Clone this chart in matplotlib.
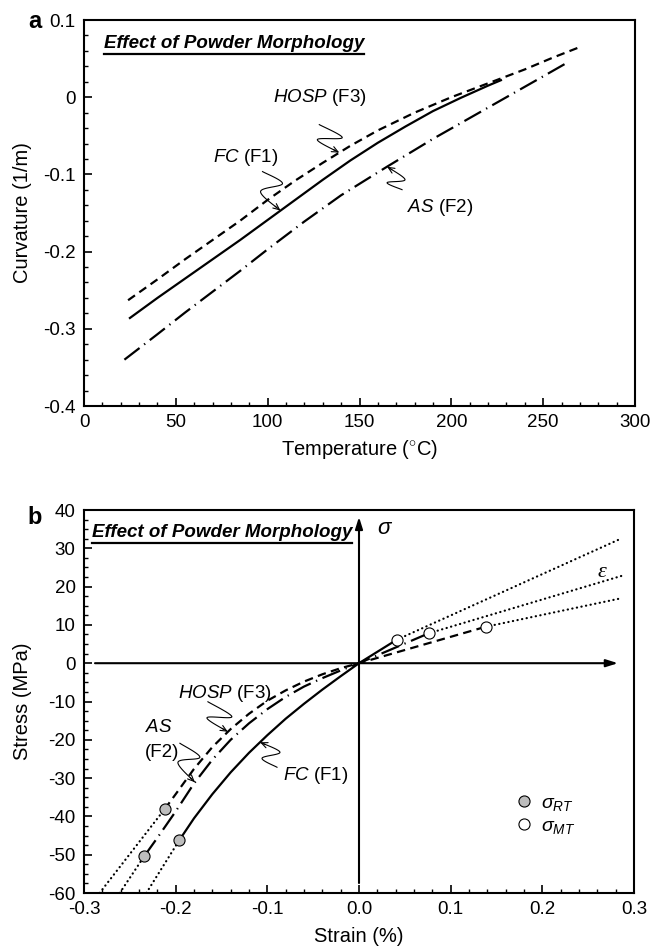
import numpy as np
import matplotlib.pyplot as plt
from matplotlib.ticker import MultipleLocator, FuncFormatter

plt.rcParams['font.family'] = ['Liberation Sans', 'DejaVu Sans']
plt.rcParams['axes.unicode_minus'] = False
plt.rcParams['mathtext.fontset'] = 'custom'
plt.rcParams['mathtext.it'] = 'Liberation Sans:italic'
plt.rcParams['mathtext.rm'] = 'Liberation Sans'

# ---- panel a: curvature vs temperature ----
temp_fc = [25, 40, 55, 70, 85, 100, 115, 130, 145, 160, 175, 190, 205, 220, 227]
curv_fc = [-0.286, -0.260, -0.235, -0.210, -0.185, -0.159, -0.133, -0.107, -0.082,
           -0.059, -0.038, -0.018, -0.001, 0.015, 0.022]
temp_as = [22, 40, 55, 70, 85, 100, 120, 140, 165, 190, 210, 230, 250, 264]
curv_as = [-0.340, -0.307, -0.279, -0.252, -0.225, -0.197, -0.161, -0.127, -0.090,
           -0.054, -0.027, 0.000, 0.027, 0.046]
temp_hosp = [24, 40, 55, 70, 85, 100, 115, 130, 145, 160, 180, 200, 220, 240, 255, 270]
curv_hosp = [-0.263, -0.236, -0.210, -0.185, -0.160, -0.133, -0.108, -0.085, -0.063,
             -0.043, -0.020, 0.000, 0.018, 0.036, 0.051, 0.065]

# ---- panel b: stress vs strain (first point = sigma_RT, last point = sigma_MT) ----
strain_fc = [-0.196, -0.18, -0.16, -0.14, -0.12, -0.10, -0.08, -0.06, -0.04, -0.02, 0.0, 0.041]
stress_fc = [-46.2, -40.5, -34.2, -28.5, -23.4, -18.8, -14.5, -10.6, -6.9, -3.4, 0.0, 6.1]
strain_as = [-0.234, -0.22, -0.20, -0.18, -0.16, -0.14, -0.12, -0.10, -0.08, -0.06, -0.04, -0.02, 0.0, 0.076]
stress_as = [-50.3, -45.6, -38.7, -31.4, -25.2, -20.0, -15.7, -12.0, -8.8, -6.1, -3.9, -1.9, 0.0, 7.8]
strain_hosp = [-0.212, -0.20, -0.18, -0.16, -0.14, -0.12, -0.10, -0.08, -0.06, -0.04, -0.02, 0.0, 0.138]
stress_hosp = [-38.1, -34.2, -27.6, -21.9, -17.2, -13.2, -9.8, -7.1, -4.8, -2.9, -1.3, 0.0, 9.5]

# extrapolated (dotted) ends of each curve: [low end, high end]
ext_strain_fc = [-0.232, 0.2865]
ext_stress_fc = [-60.0, 32.6]
ext_strain_as = [-0.261, 0.2865]
ext_stress_as = [-60.0, 22.8]
ext_strain_hosp = [-0.283, 0.283]
ext_stress_hosp = [-60.0, 16.8]

DASHED = (0, (3.8, 2.4))
DASHDOT = (0, (8.6, 2.6, 0.6, 2.6))
DOTTED = (0, (0.1, 2.0))
LW = 1.6
TICK_FS = 13.5
LABEL_FS = 14.5
NOTE_FS = 13.5


def catmull_rom(pts, n=14):
    pts = np.asarray(pts, float)
    p = np.vstack([pts[0], pts, pts[-1]])
    out = []
    for i in range(1, len(p) - 2):
        p0, p1, p2, p3 = p[i - 1], p[i], p[i + 1], p[i + 2]
        t = np.linspace(0, 1, n, endpoint=False)[:, None]
        out.append(0.5 * ((2 * p1) + (-p0 + p2) * t + (2 * p0 - 5 * p1 + 4 * p2 - p3) * t ** 2
                          + (-p0 + 3 * p1 - 3 * p2 + p3) * t ** 3))
    out.append(pts[-1][None, :])
    return np.vstack(out)


def squiggle(ax, tip, offsets):
    # offsets in pixels relative to the arrow tip (x right, y down)
    tx, ty = ax.transData.transform(tip)
    pts = [[tx + dx, ty - dy] for dx, dy in offsets] + [[tx, ty]]
    curve = ax.transData.inverted().transform(catmull_rom(pts))
    ax.plot(curve[:-3, 0], curve[:-3, 1], color='k', lw=0.8)
    ax.annotate('', xy=tip, xytext=curve[-5],
                arrowprops=dict(arrowstyle='->,head_length=0.45,head_width=0.2',
                                lw=0.8, color='k', shrinkA=0, shrinkB=0))


def style_axes(ax):
    for s in ax.spines.values():
        s.set_linewidth(1.5)
    ax.tick_params(which='both', direction='in', top=False, right=False,
                   labelsize=TICK_FS, pad=6, width=1.2)
    ax.tick_params(which='major', length=6)
    ax.tick_params(which='minor', length=3, width=1.0)


def underlined_title(ax, x, y):
    t = ax.text(x, y, 'Effect of Powder Morphology', transform=ax.transAxes,
                fontsize=13.5, fontweight='bold', fontstyle='italic', va='center', ha='left')
    fig.canvas.draw()
    bb = t.get_window_extent(fig.canvas.get_renderer())
    inv = fig.transFigure.inverted()
    (x0, y0), (x1, _) = inv.transform([[bb.x0, bb.y0 - 2], [bb.x1, bb.y0]])
    fig.add_artist(plt.Line2D([x0, x1], [y0, y0], color='k', lw=1.6,
                              transform=fig.transFigure))


fig = plt.figure(figsize=(6.54, 9.47), dpi=100)

# ---------------- panel a ----------------
ax1 = fig.add_axes([84 / 654, 1 - 406 / 947, 551 / 654, 386 / 947])
ax1.plot(temp_fc, curv_fc, color='k', lw=LW)
ax1.plot(temp_as, curv_as, color='k', lw=LW, ls=DASHDOT)
ax1.plot(temp_hosp, curv_hosp, color='k', lw=LW, ls=DASHED)
ax1.set_xlim(0, 300)
ax1.set_ylim(-0.4, 0.1)
ax1.xaxis.set_major_locator(MultipleLocator(50))
ax1.xaxis.set_minor_locator(MultipleLocator(10))
ax1.yaxis.set_major_locator(MultipleLocator(0.1))
ax1.yaxis.set_minor_locator(MultipleLocator(0.02))
ax1.yaxis.set_major_formatter(FuncFormatter(lambda v, p: f'{round(v, 2):g}'))
style_axes(ax1)
ax1.set_xlabel('Temperature ($^{\\circ}$C)', fontsize=LABEL_FS)
ax1.set_ylabel('Curvature (1/m)', fontsize=LABEL_FS)
ax1.xaxis.set_label_coords(0.5, -0.082)
ax1.yaxis.set_label_coords(-0.094, 0.5)

ax1.text(103, -0.001, '$\\mathit{HOSP}$ (F3)', fontsize=NOTE_FS, va='center', ha='left')
ax1.text(70, -0.0775, '$\\mathit{FC}$ (F1)', fontsize=NOTE_FS, va='center', ha='left')
ax1.text(176, -0.1435, '$\\mathit{AS}$ (F2)', fontsize=NOTE_FS, va='center', ha='left')
squiggle(ax1, (139, np.interp(139, temp_hosp, curv_hosp)), [(-20, -28), (3, -15), (-22, -13)])
squiggle(ax1, (107, np.interp(107, temp_fc, curv_fc)), [(-18, -39), (2, -27), (-20, -19)])
squiggle(ax1, (165, np.interp(165, temp_as, curv_as)), [(15, 23), (0, 16), (18, 13)])

# ---------------- panel b ----------------
ax2 = fig.add_axes([84 / 654, 1 - 893 / 947, 550 / 654, 383 / 947])
ax2.set_xlim(-0.3, 0.3)
ax2.set_ylim(-60, 40)

ax2.annotate('', xy=(0.2825, 0), xytext=(-0.288, 0),
             arrowprops=dict(arrowstyle='-|>,head_length=0.7,head_width=0.22',
                             lw=1.5, color='k', shrinkA=0, shrinkB=0))
ax2.annotate('', xy=(0, 38.2), xytext=(0, -57.4),
             arrowprops=dict(arrowstyle='-|>,head_length=0.7,head_width=0.22',
                             lw=1.5, color='k', shrinkA=0, shrinkB=0))
ax2.text(0.0284, 34.8, '$\\sigma$', fontsize=16, family='Liberation Serif',
         style='italic', ha='center', va='center')
ax2.text(0.265, 23.8, '\u03b5', fontsize=16, family='Liberation Serif',
         style='italic', ha='center', va='center')

for xs, ys, exs, eys, ls in [(strain_fc, stress_fc, ext_strain_fc, ext_stress_fc, '-'),
                             (strain_as, stress_as, ext_strain_as, ext_stress_as, DASHDOT),
                             (strain_hosp, stress_hosp, ext_strain_hosp, ext_stress_hosp, DASHED)]:
    ax2.plot([exs[0], xs[0]], [eys[0], ys[0]], color='k', lw=LW, ls=DOTTED, dash_capstyle='round')
    ax2.plot([xs[-1], exs[1]], [ys[-1], eys[1]], color='k', lw=LW, ls=DOTTED, dash_capstyle='round')
    ax2.plot(xs, ys, color='k', lw=LW, ls=ls)
    ax2.plot(xs[0], ys[0], 'o', ms=8, mfc='#bdbdbd', mec='k', mew=0.8, zorder=5)
    ax2.plot(xs[-1], ys[-1], 'o', ms=8, mfc='white', mec='k', mew=0.8, zorder=5)

h_rt, = ax2.plot([], [], 'o', ms=8, mfc='#bdbdbd', mec='k', mew=0.8)
h_mt, = ax2.plot([], [], 'o', ms=8, mfc='white', mec='k', mew=0.8)
ax2.legend([h_rt, h_mt], ['$\\sigma_{RT}$', '$\\sigma_{MT}$'], frameon=False, fontsize=14,
           loc='upper left', bbox_to_anchor=(0.778, 0.258), borderaxespad=0, borderpad=0,
           handletextpad=0.3, handlelength=1.2, labelspacing=0.25)

ax2.xaxis.set_major_locator(MultipleLocator(0.1))
ax2.xaxis.set_minor_locator(MultipleLocator(0.02))
ax2.yaxis.set_major_locator(MultipleLocator(10))
ax2.yaxis.set_minor_locator(MultipleLocator(2.5))
ax2.xaxis.set_major_formatter(FuncFormatter(lambda v, p: f'{abs(v):.1f}' if abs(v) < 1e-9 else f'{v:.1f}'))
ax2.yaxis.set_major_formatter(FuncFormatter(lambda v, p: f'{v:g}'))
style_axes(ax2)
ax2.set_xlabel('Strain (%)', fontsize=LABEL_FS)
ax2.set_ylabel('Stress (MPa)', fontsize=LABEL_FS)
ax2.xaxis.set_label_coords(0.5, -0.09)
ax2.yaxis.set_label_coords(-0.094, 0.5)

ax2.text(-0.1975, -7.8, '$\\mathit{HOSP}$ (F3)', fontsize=NOTE_FS, va='center', ha='left')
ax2.text(-0.2335, -16.9, '$\\mathit{AS}$', fontsize=NOTE_FS, va='center', ha='left')
ax2.text(-0.2335, -23.2, '(F2)', fontsize=NOTE_FS, va='center', ha='left')
ax2.text(-0.083, -29.2, '$\\mathit{FC}$ (F1)', fontsize=NOTE_FS, va='center', ha='left')
squiggle(ax2, (-0.143, np.interp(-0.143, strain_hosp, stress_hosp)), [(-20, -30), (4, -15), (-21, -14)])
squiggle(ax2, (-0.179, np.interp(-0.179, strain_as, stress_as)), [(-15, -39), (5, -25), (-17, -20)])
squiggle(ax2, (-0.108, np.interp(-0.108, strain_fc, stress_fc)), [(17, 25), (2, 16), (20, 10)])

fig.text(35 / 654, 1 - 22 / 947, 'a', fontsize=17, fontweight='bold', ha='center', va='center')
fig.text(35 / 654, 1 - 517 / 947, 'b', fontsize=17, fontweight='bold', ha='center', va='center')

underlined_title(ax1, 0.036, 0.940)
underlined_title(ax2, 0.0145, 0.940)

fig.savefig('out.png', dpi=100)
